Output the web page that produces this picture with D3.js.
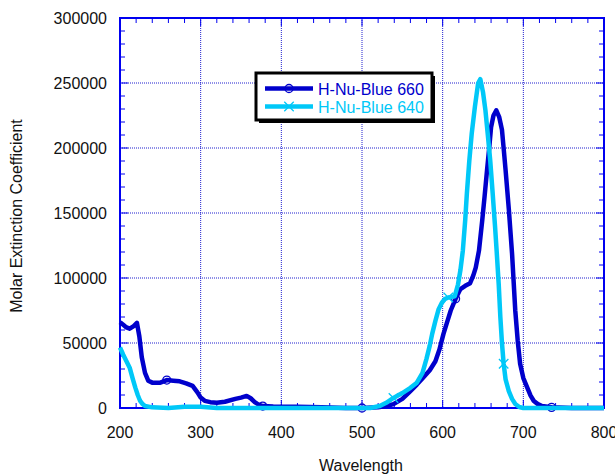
<!DOCTYPE html>
<html>
<head>
<meta charset="utf-8">
<script src="https://cdn.jsdelivr.net/npm/d3@7"></script>
<style>
  body { margin: 0; background: #fff; }
  text { font-family: "Liberation Sans", Arial, sans-serif; }
</style>
</head>
<body>
<script>
const width = 615;
const height = 475;
const margin = {top: 18, right: 11, bottom: 67, left: 120};

// wavelength (nm) and molar extinction coefficient
const wl660 = [200, 204, 208, 212, 217, 221, 224, 227, 231, 235, 240, 250, 258, 266, 274, 282, 290, 296, 300, 305,
  312, 320, 330, 343, 350, 357, 362, 367, 372, 377, 390, 420, 450, 480, 500, 520, 530, 539, 550, 560,
  568, 576, 584, 591, 596, 601, 606, 610, 616, 622, 628, 634, 638, 641, 645, 649, 652, 655, 658, 660,
  663, 666.5, 670, 673.5, 676, 678, 682, 686, 690, 693, 696, 700, 705, 709, 713, 718, 723, 735, 760, 800];
const val660 = [66000, 64000, 62000, 61000, 63000, 65500, 55000, 39000, 27000, 21000, 19500, 19500, 21500, 21000, 20500, 19000, 17000, 12000, 8000, 5500,
  4500, 4000, 4800, 7000, 8000, 9300, 7500, 4600, 2500, 1500, 1200, 1000, 500, 0, 0, 500, 1500, 3000, 7000, 13000,
  18000, 23500, 29000, 36000, 45000, 57000, 67000, 75000, 84000, 91500, 94000, 96000, 102000, 108000, 121000, 144000, 163000, 183000, 202000, 216000,
  225000, 229000, 224000, 214000, 197000, 183000, 153000, 119000, 75000, 52000, 34000, 23000, 15500, 9500, 5400, 3000, 1500, 500, 0, 0];

const wl640 = [200, 204, 208, 212, 216, 219, 222, 225, 228, 231, 240, 260, 280, 300, 320, 400, 480, 510, 522, 530,
  539, 550, 560, 568, 575, 580, 584, 587, 591, 595, 599, 603, 607, 615, 619, 622, 625, 628, 630, 633,
  636, 640, 644, 646.7, 650, 653, 656, 659, 662, 665, 667, 669.5, 671.5, 673.5, 675.6, 678, 682, 686, 690, 695,
  700, 800];
const val640 = [46500, 41000, 36000, 31000, 22000, 15700, 10000, 5400, 3000, 1500, 500, 0, 1000, 1000, 0, 0, 0, 0, 1500, 4000,
  7700, 11500, 15500, 19500, 27000, 38000, 48000, 57000, 67000, 76000, 81000, 84000, 85000, 86000, 95000, 106000, 121000, 145000, 165000, 190000,
  211000, 232000, 250000, 253000, 243000, 229000, 210000, 190000, 165000, 139000, 120000, 95000, 70000, 50000, 34000, 22000, 13000, 7000, 3100, 800,
  0, 0];

// marker positions on each curve (only the visible ones)
const mark660 = [[258, 21500], [377, 1500], [500, 0], [616, 84000], [735, 500]];
const mark640 = [[539, 7700], [607, 85000], [675.6, 34000]];

const seriesNames = ["H-Nu-Blue 660", "H-Nu-Blue 640"];
const seriesColors = ["#0000cc", "#00c8f8"];

const xTicks = [200, 300, 400, 500, 600, 700, 800];
const yTicks = [0, 50000, 100000, 150000, 200000, 250000, 300000];

const x = d3.scaleLinear().domain([200, 800]).range([margin.left, width - margin.right]);
const y = d3.scaleLinear().domain([0, 300000]).range([height - margin.bottom, margin.top]);

const svg = d3.select("body").append("svg")
  .attr("width", width)
  .attr("height", height);

const axisColor = "#0000f0";
const x0 = x.range()[0], x1 = x.range()[1];
const y0 = y.range()[0], y1 = y.range()[1];

// dotted grid
svg.append("g")
  .selectAll("line")
  .data(xTicks.slice(1, -1))
  .enter().append("line")
  .attr("x1", d => x(d)).attr("x2", d => x(d))
  .attr("y1", y1).attr("y2", y0)
  .attr("stroke", "#2020d0").attr("stroke-width", 1).attr("stroke-dasharray", "1,1");

svg.append("g")
  .selectAll("line")
  .data(yTicks.slice(1, -1))
  .enter().append("line")
  .attr("x1", x0).attr("x2", x1)
  .attr("y1", d => y(d)).attr("y2", d => y(d))
  .attr("stroke", "#2020d0").attr("stroke-width", 1).attr("stroke-dasharray", "1,1");

// inside ticks on all four sides
const xMinor = d3.range(200, 801, 20);
const yMinor = d3.range(0, 300001, 10000);

const ticks = svg.append("g").attr("stroke", axisColor).attr("stroke-width", 1);
xMinor.forEach(function(d) {
  const len = d % 100 === 0 ? 8 : 5;
  ticks.append("line").attr("x1", x(d)).attr("x2", x(d)).attr("y1", y0).attr("y2", y0 - len);
  ticks.append("line").attr("x1", x(d)).attr("x2", x(d)).attr("y1", y1).attr("y2", y1 + len);
});
yMinor.forEach(function(d) {
  const len = d % 50000 === 0 ? 8 : 5;
  ticks.append("line").attr("x1", x0).attr("x2", x0 + len).attr("y1", y(d)).attr("y2", y(d));
  ticks.append("line").attr("x1", x1).attr("x2", x1 - len).attr("y1", y(d)).attr("y2", y(d));
});

svg.append("rect")
  .attr("x", x0).attr("y", y1)
  .attr("width", x1 - x0).attr("height", y0 - y1)
  .attr("fill", "none")
  .attr("stroke", axisColor)
  .attr("stroke-width", 2);

// tick labels
svg.append("g")
  .selectAll("text")
  .data(xTicks)
  .enter().append("text")
  .attr("x", d => x(d))
  .attr("y", y0 + 30)
  .attr("text-anchor", "middle")
  .attr("font-size", 16)
  .attr("fill", "#111")
  .text(d => d);

svg.append("g")
  .selectAll("text")
  .data(yTicks)
  .enter().append("text")
  .attr("x", x0 - 13)
  .attr("y", d => y(d) + 5.5)
  .attr("text-anchor", "end")
  .attr("font-size", 16)
  .attr("fill", "#111")
  .text(d => d);

svg.append("text")
  .attr("x", 361)
  .attr("y", 471)
  .attr("text-anchor", "middle")
  .attr("font-size", 16)
  .attr("fill", "#111")
  .text("Wavelength");

svg.append("text")
  .attr("transform", "translate(22, 216) rotate(-90)")
  .attr("text-anchor", "middle")
  .attr("font-size", 16)
  .attr("fill", "#111")
  .text("Molar Extinction Coefficient");

// curves
const line = d3.line()
  .x(d => x(d[0]))
  .y(d => y(d[1]));

const series = [
  {pts: d3.zip(wl660, val660), marks: mark660, color: seriesColors[0], shape: "circle"},
  {pts: d3.zip(wl640, val640), marks: mark640, color: seriesColors[1], shape: "cross"}
];

series.forEach(function(s) {
  svg.append("path")
    .datum(s.pts)
    .attr("fill", "none")
    .attr("stroke", s.color)
    .attr("stroke-width", 4.5)
    .attr("stroke-linejoin", "round")
    .attr("d", line);

  const sym = d3.symbol().type(s.shape === "circle" ? d3.symbolCircle : d3.symbolX).size(s.shape === "circle" ? 50 : 60);
  svg.append("g")
    .selectAll("path")
    .data(s.marks)
    .enter().append("path")
    .attr("transform", d => "translate(" + x(d[0]) + "," + y(d[1]) + ")")
    .attr("d", sym)
    .attr("fill", "none")
    .attr("stroke", s.color)
    .attr("stroke-width", 1.3);
});

// legend
const lg = svg.append("g");
lg.append("rect").attr("x", 259).attr("y", 76).attr("width", 176).attr("height", 47).attr("fill", "#000");
lg.append("rect").attr("x", 256).attr("y", 73).attr("width", 176).attr("height", 47)
  .attr("fill", "#fff").attr("stroke", "#000").attr("stroke-width", 3);

seriesNames.forEach(function(name, i) {
  const ly = 88.5 + i * 18;
  lg.append("line").attr("x1", 265).attr("x2", 313).attr("y1", ly).attr("y2", ly)
    .attr("stroke", seriesColors[i]).attr("stroke-width", 4.5);
  const sym = d3.symbol().type(i === 0 ? d3.symbolCircle : d3.symbolX).size(i === 0 ? 50 : 60);
  lg.append("path").attr("transform", "translate(289," + ly + ")").attr("d", sym)
    .attr("fill", "none").attr("stroke", seriesColors[i]).attr("stroke-width", 1.3);
  lg.append("text").attr("x", 318).attr("y", ly + 6)
    .attr("font-size", 16)
    .attr("fill", seriesColors[i])
    .text(name);
});
</script>
</body>
</html>
